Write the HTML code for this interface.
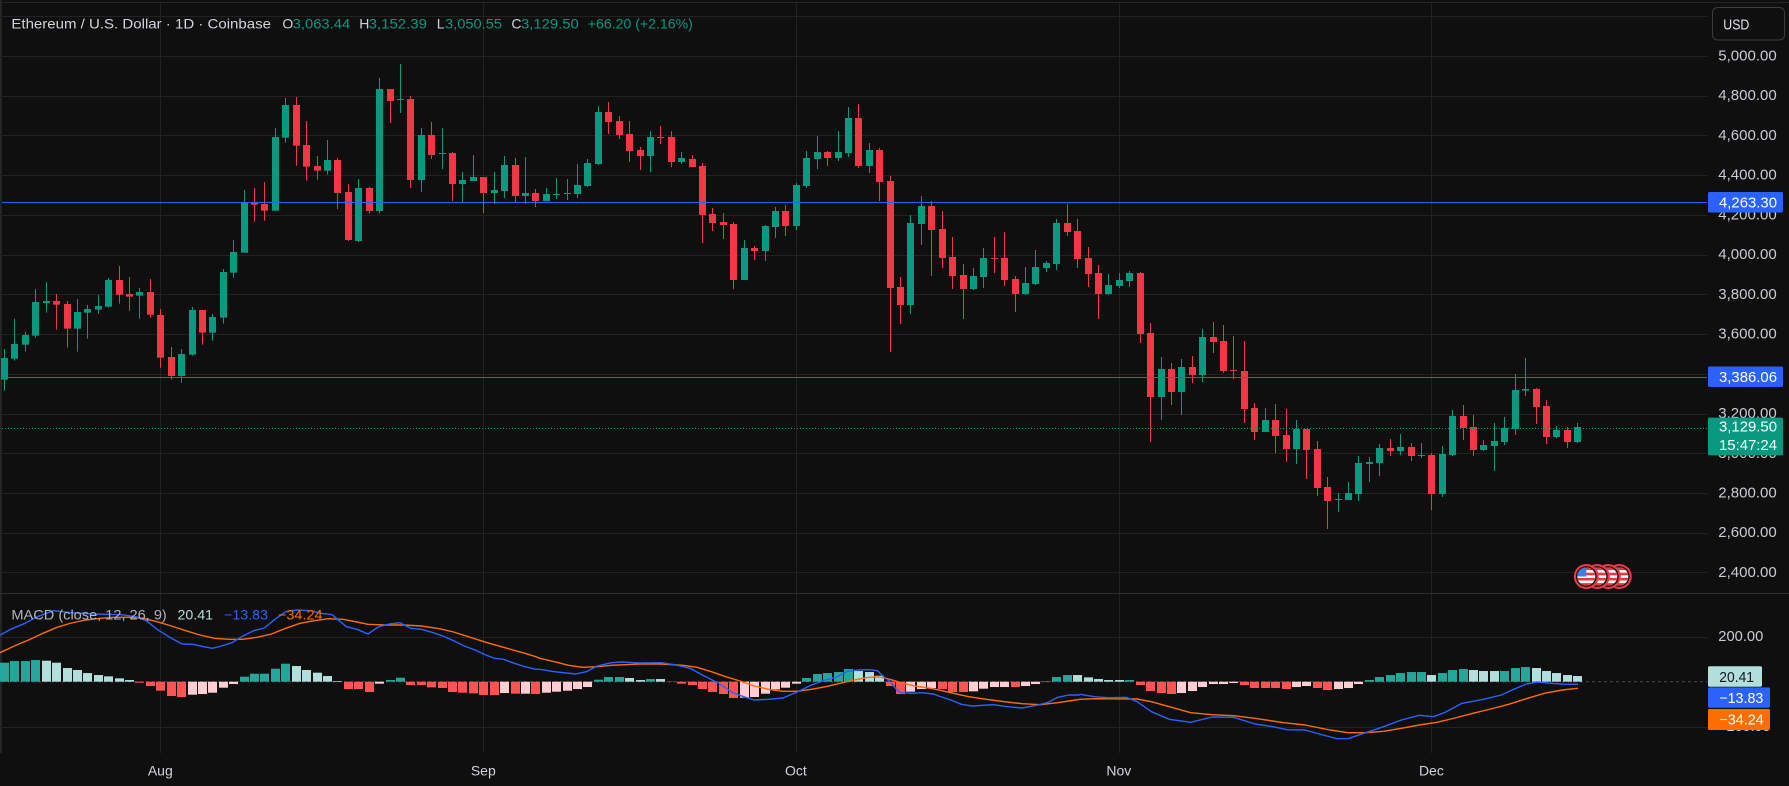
<!DOCTYPE html>
<html><head><meta charset="utf-8"><title>Ethereum / U.S. Dollar</title>
<style>
html,body{margin:0;padding:0;background:#0f0f0f;width:1789px;height:786px;overflow:hidden}
svg{display:block}
text{font-family:"Liberation Sans",Arial,sans-serif;font-size:14px}
.ax{font-size:15px}
</style></head><body>
<svg id="s" xmlns="http://www.w3.org/2000/svg" width="1789" height="786" viewBox="0 0 1789 786">
<rect width="1789" height="786" fill="#0f0f0f"/>
<rect x="0" y="0" width="2" height="753" fill="#242424"/>
<line x1="0" x2="1789" y1="2.5" y2="2.5" stroke="#262626" stroke-width="1"/>
<g id="grid"></g>
<g id="plot"></g>
<g id="flags"></g>
<line x1="0" x2="1789" y1="593.5" y2="593.5" stroke="#2e2e36" stroke-width="1"/>

<!-- header legend -->
<text x="11.4" y="28.3" fill="#d1d4dc" textLength="259.6" lengthAdjust="spacingAndGlyphs">Ethereum / U.S. Dollar · 1D · Coinbase</text>
<text x="282.4" y="28.3" fill="#d1d4dc">O</text>
<text x="292.7" y="28.3" fill="#089981" textLength="57.5" lengthAdjust="spacingAndGlyphs">3,063.44</text>
<text x="359.2" y="28.3" fill="#d1d4dc">H</text>
<text x="368.6" y="28.3" fill="#089981" textLength="58.4" lengthAdjust="spacingAndGlyphs">3,152.39</text>
<text x="436.7" y="28.3" fill="#d1d4dc">L</text>
<text x="445" y="28.3" fill="#089981" textLength="57" lengthAdjust="spacingAndGlyphs">3,050.55</text>
<text x="511.4" y="28.3" fill="#d1d4dc">C</text>
<text x="521" y="28.3" fill="#089981" textLength="57.8" lengthAdjust="spacingAndGlyphs">3,129.50</text>
<text x="587.8" y="28.3" fill="#089981" textLength="105" lengthAdjust="spacingAndGlyphs">+66.20 (+2.16%)</text>

<!-- MACD legend -->
<text x="11.4" y="619.3" fill="#b2b5be" textLength="155.4" lengthAdjust="spacingAndGlyphs">MACD (close, 12, 26, 9)</text>
<text x="177.5" y="619.3" fill="#b2dfdb" textLength="35.5" lengthAdjust="spacingAndGlyphs">20.41</text>
<text x="224" y="619.3" fill="#2962ff" textLength="44" lengthAdjust="spacingAndGlyphs">−13.83</text>
<text x="278" y="619.3" fill="#ff6d00" textLength="44.5" lengthAdjust="spacingAndGlyphs">−34.24</text>

<!-- USD button -->
<rect x="1712.5" y="7.5" width="72" height="32.5" rx="5" ry="5" fill="#0f0f0f" stroke="#3a3c42" stroke-width="1"/>
<text class="ax" x="1723.3" y="29.3" fill="#e0e3eb" textLength="26" lengthAdjust="spacingAndGlyphs">USD</text>

<!-- price axis labels -->
<g fill="#c9ccd3" class="ax">
<text class="ax" x="1718.3" y="60.5" textLength="58.4" lengthAdjust="spacingAndGlyphs">5,000.00</text>
<text class="ax" x="1718.3" y="100.2" textLength="58.4" lengthAdjust="spacingAndGlyphs">4,800.00</text>
<text class="ax" x="1718.3" y="140" textLength="58.4" lengthAdjust="spacingAndGlyphs">4,600.00</text>
<text class="ax" x="1718.3" y="179.7" textLength="58.4" lengthAdjust="spacingAndGlyphs">4,400.00</text>
<text class="ax" x="1718.3" y="219.4" textLength="58.4" lengthAdjust="spacingAndGlyphs">4,200.00</text>
<text class="ax" x="1718.3" y="259.1" textLength="58.4" lengthAdjust="spacingAndGlyphs">4,000.00</text>
<text class="ax" x="1718.3" y="298.9" textLength="58.4" lengthAdjust="spacingAndGlyphs">3,800.00</text>
<text class="ax" x="1718.3" y="338.6" textLength="58.4" lengthAdjust="spacingAndGlyphs">3,600.00</text>
<text class="ax" x="1718.3" y="418" textLength="58.4" lengthAdjust="spacingAndGlyphs">3,200.00</text>
<text class="ax" x="1718.3" y="457.8" textLength="58.4" lengthAdjust="spacingAndGlyphs">3,000.00</text>
<text class="ax" x="1718.3" y="497.5" textLength="58.4" lengthAdjust="spacingAndGlyphs">2,800.00</text>
<text class="ax" x="1718.3" y="537.2" textLength="58.4" lengthAdjust="spacingAndGlyphs">2,600.00</text>
<text class="ax" x="1718.3" y="576.9" textLength="58.4" lengthAdjust="spacingAndGlyphs">2,400.00</text>
<text class="ax" x="1718.3" y="641.2" textLength="45" lengthAdjust="spacingAndGlyphs">200.00</text>
<text class="ax" x="1718.3" y="731.2" textLength="52" lengthAdjust="spacingAndGlyphs">−200.00</text>
</g>

<!-- price axis tags -->
<rect x="1708" y="192" width="75" height="20.5" rx="1.5" fill="#2962ff"/>
<text class="ax" x="1719" y="207.3" fill="#ffffff" textLength="58" lengthAdjust="spacingAndGlyphs">4,263.30</text>
<rect x="1708" y="366.5" width="75" height="20.5" rx="1.5" fill="#2962ff"/>
<text class="ax" x="1719" y="381.8" fill="#ffffff" textLength="58" lengthAdjust="spacingAndGlyphs">3,386.06</text>
<rect x="1708" y="417.6" width="75" height="37.6" rx="1.5" fill="#089981"/>
<text class="ax" x="1719" y="431.5" fill="#ffffff" textLength="58" lengthAdjust="spacingAndGlyphs">3,129.50</text>
<text class="ax" x="1719" y="450" fill="#ffffff" textLength="58" lengthAdjust="spacingAndGlyphs">15:47:24</text>

<rect x="1708" y="666.2" width="54" height="20.6" rx="1.5" fill="#b2dfdb"/>
<text class="ax" x="1719.3" y="681.8" fill="#131722" textLength="34.7" lengthAdjust="spacingAndGlyphs">20.41</text>
<rect x="1708" y="687.4" width="62" height="20.4" rx="1.5" fill="#2962ff"/>
<text class="ax" x="1719.3" y="702.8" fill="#ffffff" textLength="44" lengthAdjust="spacingAndGlyphs">−13.83</text>
<rect x="1708" y="709" width="62" height="21" rx="1.5" fill="#ff6d00"/>
<text class="ax" x="1719.3" y="724.6" fill="#ffffff" textLength="44.5" lengthAdjust="spacingAndGlyphs">−34.24</text>

<!-- time axis -->
<g fill="#d1d4dc" text-anchor="middle">
<text x="160.3" y="775.5">Aug</text>
<text x="483.3" y="775.5">Sep</text>
<text x="795.9" y="775.5">Oct</text>
<text x="1118.8" y="775.5">Nov</text>
<text x="1431.4" y="775.5">Dec</text>
</g>
</svg>
<script>
(function(){
var py=function(p){return 56+(5000-p)*0.19865;};
var months=[160.3,483.3,795.9,1118.8,1431.4];
var g='';
for(var p=5200;p>=2400;p-=200){var y=Math.round(py(p))+0.5;g+='<line x1="2" x2="1707" y1="'+y+'" y2="'+y+'" stroke="#222222" stroke-width="1"/>';}
[636.7,726.7].forEach(function(y){var Y=Math.round(y)+0.5;g+='<line x1="2" x2="1707" y1="'+Y+'" y2="'+Y+'" stroke="#222222" stroke-width="1"/>';});
months.forEach(function(x){var X=Math.round(x)+0.5;g+='<line x1="'+X+'" x2="'+X+'" y1="3" y2="753" stroke="#222222" stroke-width="1"/>';});
document.getElementById('grid').innerHTML=g;

var C1=[[1019,927,1052,954],[956,836,962,912],[914,876,935,885],[887,747,893,786],[789,726,818,783],[783,762,869,794],[792,783,923,866],[866,777,935,816],[818,795,896,807],[809,765,821,798],[800,714,803,720],[720,678,791,764],[762,711,812,770],[767,744,836,756],[756,717,832,824],[825,807,983,953],[951,921,1019,1008],[1008,927,1028,942],[944,801,947,810],[810,810,914,878],[878,822,902,831],[833,687,851,696],[698,600,713,636],[638,450,638,487],[487,444,545,494],[492,426,542,512],[512,264,512,291],[293,174,308,195],[195,171,377,317],[315,243,422,380],[378,348,419,392],[392,300,404,360]];
var C2=[[360,354,507,459],[456,432,603,600],[603,417,606,444],[444,441,521,513],[513,114,521,147],[147,147,249,183],[179,72,219,177],[177,168,444,420],[420,264,456,285],[285,246,357,345],[341,264,387,339],[339,336,483,432],[432,396,489,420],[423,345,423,411],[411,411,519,459],[459,396,492,450],[453,348,474,375],[375,354,486,468],[468,351,492,459],[459,447,501,483],[483,444,483,462],[465,414,477,462],[462,417,480,459],[462,372,474,435],[438,357,441,369],[372,198,375,216],[216,186,282,246],[243,228,297,285],[282,243,366,333],[330,321,390,348],[348,273,396,291]];
var C3=[[291,258,312,293],[291,273,381,366],[366,336,372,354],[357,345,381,381],[378,369,609,525],[522,504,573,549],[546,519,597,555],[552,546,747,720],[720,600,720,624],[624,618,660,633],[633,555,663,558],[561,501,594,513],[513,495,588,558],[558,429,570,435],[438,333,444,354],[357,288,387,336],[336,333,378,354],[354,273,363,336],[339,201,351,234],[234,192,384,378],[378,309,399,330],[330,324,483,426],[423,408,936,744],[741,711,852,795],[795,525,822,549],[552,468,615,498],[498,483,708,570],[567,513,684,654],[651,591,747,708],[705,672,837,747],[747,684,750,708],[711,624,744,654]];
var C4=[[354,291,399,356],[354,276,438,420],[417,408,516,462],[462,381,465,429],[432,330,435,381],[384,363,396,369],[372,237,390,249],[249,192,288,276],[273,237,384,357],[354,321,441,402],[399,375,537,462],[462,402,465,435],[438,399,444,420],[423,393,441,399],[399,396,609,582],[579,549,906,771],[771,651,840,687],[687,669,795,756],[756,657,825,681],[681,648,729,705],[705,567,726,591],[591,546,639,606],[603,555,699,693],[690,588,717,692],[693,603,849,807],[804,789,900,876],[876,804,876,840],[840,792,939,888],[885,807,966,927],[927,840,972,867],[867,867,1017,930]];
var C5=[[927,903,1068,1044],[1041,1011,1167,1083],[1079,1059,1116,1077],[1080,1026,1080,1059],[1062,948,1083,969],[972,951,1026,966],[969,912,1008,924],[924,897,948,933],[933,882,945,921],[921,909,963,948],[947,909,954,945],[945,939,1110,1062],[1062,918,1071,942],[945,810,948,828],[828,795,900,864],[861,825,948,930],[930,900,933,915],[918,849,993,903],[906,831,915,864],[867,702,885,750],[752,654,768,747],[747,744,852,801],[798,780,912,891],[891,858,894,870],[870,861,924,906],[906,849,909,861]];
var D=[];
function add(a,y0){a.forEach(function(c){D.push(c.map(function(v){return y0+v/3;}));});}
add(C1,40);add(C2,40);add(C3,40);add(C4,140);add(C5,140);
var X=function(i){return 4.0+10.419*i;};
var s='';

var yb1=Math.round(py(4263.30))+0.5, yb2=Math.round(py(3386.06))+0.5, yc=Math.round(py(3129.50))+0.5;

s+='<line x1="2" x2="1707" y1="681.7" y2="681.7" stroke="#4a4a4a" stroke-width="1" stroke-dasharray="3 3"/>';

var H=[57,62,62,65,63,57,41,35,26,20,16,10,5,-3,-13,-27,-43,-46,-39,-37,-33,-18,-7,15,24,24,39,54,47,35,27,17,2,-22,-22,-31,-6,5,12,-10,-10,-17,-19,-31,-33,-35,-40,-40,-34,-36,-36,-37,-33,-30,
-27,-22,-16,6,14,14,11,5,8,8,-1,-6,-10,-22,-31,-37,-49,-48,-46,-36,-23,-18,-6,11,23,26,29,38,32,29,18,-13,-37,-30,-22,-19,-22,-31,-31,-29,-21,-16,-16,-16,-13,-7,-1,14,20,20,13,8,
5,5,5,-10,-28,-34,-37,-34,-28,-16,-7,-7,-4,-10,-19,-19,-19,-22,-16,-13,-19,-25,-22,-19,-7,5,14,20,26,29,29,20,26,35,38,35,32,32,32,41,44,41,32,26,20,17];
var CS=["DDDD","LLLLLLLLL","RRRRR","PPPPP","DDDDD","LLLLL","RRR","P","DD","RRRRRRRRR","PRPRPP","PPP","DDD","LL","D","L","RRRRRRR","PPPPPP","DDDDD","LLL","RR","PPP","RRR","PPPP","R","PPP","DD","LLLLL","D","RRRR","PPPPPP","RRRRR","PP","RR","PPP","DDDDDD","L","DDD","LLL","DDD","LLLLL"].join('');
var CM={D:'#26a69a',L:'#b2dfdb',R:'#ff5252',P:'#ffcdd2'};
var Z=681.7;
H.forEach(function(h,i){
  var v=h/3, xc=Math.round(X(i)), col;
  if(CS.length===H.length){col=CM[CS.charAt(i)];}
  else{var pv=i?H[i-1]:h; col=h>=0?(h>pv?CM.D:CM.L):(h<pv?CM.R:CM.P);}
  if(v>=0){var hh=Math.max(v,0.6);s+='<rect x="'+(xc-4)+'" y="'+(Z-hh).toFixed(2)+'" width="9" height="'+hh.toFixed(2)+'" fill="'+col+'"/>';}
  else{s+='<rect x="'+(xc-4)+'" y="'+Z+'" width="9" height="'+(-v).toFixed(2)+'" fill="'+col+'"/>';}
});

var B8=[[0,135],[30,118],[70,100],[100,82],[150,62],[200,68],[260,72],[300,73],[340,74],[380,80],[410,92],[440,118],[480,145],[510,162],[540,163],[570,170],[595,175],[620,168],[650,158],[680,138],[710,122],[740,114],[770,88],[800,65],[830,60],[870,62],[900,70],[930,74],[970,110],[1000,118],[1030,132],[1060,110],[1090,102],[1120,98],[1150,115],[1180,118],[1210,127],[1240,138],[1270,152],[1300,168],[1330,180],[1360,195],[1385,205],[1410,208],[1440,220],[1470,230],[1500,238],[1530,243]];
var O8=[[0,188],[40,168],[80,150],[120,130],[160,112],[200,99],[240,90],[280,85],[320,82],[360,82],[400,85],[440,95],[480,108],[520,122],[560,135],[600,145],[640,148],[680,148],[720,142],[760,132],[800,115],[840,100],[880,92],[920,86],[960,88],[1000,96],[1030,103],[1080,105],[1130,105],[1180,108],[1230,116],[1270,126],[1320,143],[1370,160],[1420,175],[1470,190],[1500,200]];
var B9=[[0,238],[40,245],[100,252],[130,245],[160,228],[200,218],[230,216],[280,219],[340,218],[380,225],[420,235],[460,258],[500,280],[540,308],[570,320],[600,330],[640,328],[680,324],[720,306],[760,285],[800,270],[830,262],[860,244],[890,240],[920,239],[945,242],[960,258],[980,275],[1000,300],[1010,308],[1040,310],[1070,308],[1100,312],[1150,330],[1180,343],[1210,348],[1270,344],[1310,350],[1350,354],[1390,346],[1420,338],[1450,322],[1480,315],[1510,315]];
var O9=[[0,205],[40,215],[80,226],[120,232],[160,230],[200,226],[280,222],[340,222],[400,226],[440,232],[480,245],[520,260],[560,273],[600,288],[640,298],[680,304],[720,304],[760,298],[800,290],[840,280],[880,270],[920,262],[950,261],[980,268],[1010,278],[1050,288],[1100,296],[1150,308],[1200,320],[1250,328],[1300,335],[1350,341],[1400,344],[1450,338],[1500,330]];
var B10=[[0,313],[40,320],[80,323],[130,322],[160,335],[200,365],[250,388],[310,397],[370,381],[430,382],[490,402],[540,410],[580,419],[630,420],[680,435],[720,446],[750,446],[800,428],[850,410],[900,390],[950,376],[990,380],[1020,368],[1070,340],[1130,328],[1180,315],[1210,300],[1250,282],[1280,276],[1320,280],[1360,283],[1393,283]];
var O10=[[0,328],[40,326],[160,327],[200,335],[250,350],[310,368],[370,374],[430,377],[490,385],[570,398],[630,405],[700,420],[750,428],[800,428],[850,424],[900,415],[950,405],[1000,397],[1050,384],[1100,370],[1150,357],[1200,343],[1250,326],[1300,310],[1350,300],[1393,295]];
function pts(a,x0,lo,hi){return a.map(function(p){return [x0+p[0]/2.8,590+p[1]/3];}).filter(function(p){return p[0]>=lo&&p[0]<hi;});}
function poly(arr,col){return '<polyline fill="none" stroke="'+col+'" stroke-width="1.4" stroke-linejoin="round" stroke-linecap="round" points="'+arr.map(function(p){return p[0].toFixed(1)+','+p[1].toFixed(1);}).join(' ')+'"/>';}
var blue=pts(B8,0,-1,540).concat(pts(B9,540,540,1080),pts(B10,1080,1080,2000));
var orng=pts(O8,0,-1,540).concat(pts(O9,540,540,1080),pts(O10,1080,1080,2000));
s+=poly(orng,'#ff6d00');
s+=poly(blue,'#2962ff');

D.forEach(function(d,i){
  var o=d[0],h=d[1],l=d[2],c=d[3];
  var up=c<=o, col=up?'#089981':'#f23645';
  var xc=Math.round(X(i));
  var top=Math.min(o,c), bh=Math.max(1,Math.abs(o-c));
  s+='<rect x="'+xc+'" y="'+h.toFixed(2)+'" width="1" height="'+Math.max(1,l-h).toFixed(2)+'" fill="'+col+'"/>';
  s+='<rect x="'+(xc-3)+'" y="'+top.toFixed(2)+'" width="7" height="'+bh.toFixed(2)+'" fill="'+col+'"/>';
});

s+='<line x1="2" x2="1707" y1="'+yb1+'" y2="'+yb1+'" stroke="#2962ff" stroke-width="1"/>';
s+='<line x1="2" x2="1707" y1="'+yb2+'" y2="'+yb2+'" stroke="#2962ff" stroke-width="1"/>';
s+='<line x1="2" x2="1707" y1="'+yc+'" y2="'+yc+'" stroke="#089981" stroke-width="1" stroke-dasharray="1 2"/>';
document.getElementById('plot').innerHTML=s;

var f='', cy=576.5, cxs=[1619.3,1608.3,1597.3,1586.3];
f+='<defs>';
cxs.forEach(function(cx,k){f+='<clipPath id="fc'+k+'"><circle cx="'+cx+'" cy="'+cy+'" r="9"/></clipPath>';});
f+='</defs>';
cxs.forEach(function(cx,k){
  f+='<circle cx="'+cx+'" cy="'+cy+'" r="12.5" fill="#f23645"/>';
  f+='<circle cx="'+cx+'" cy="'+cy+'" r="10.4" fill="#141414"/>';
  f+='<g clip-path="url(#fc'+k+')">';
  f+='<rect x="'+(cx-10)+'" y="'+(cy-10)+'" width="20" height="20" fill="#ffffff"/>';
  for(var j=0;j<4;j++){f+='<rect x="'+(cx-10)+'" y="'+(cy-9+j*5.2)+'" width="20" height="2.6" fill="#e5393f"/>';}
  f+='<rect x="'+(cx-10)+'" y="'+(cy-10)+'" width="10" height="10" fill="#3c7de6"/>';
  f+='</g>';
});
document.getElementById('flags').innerHTML=f;
})();
</script>
</body></html>
